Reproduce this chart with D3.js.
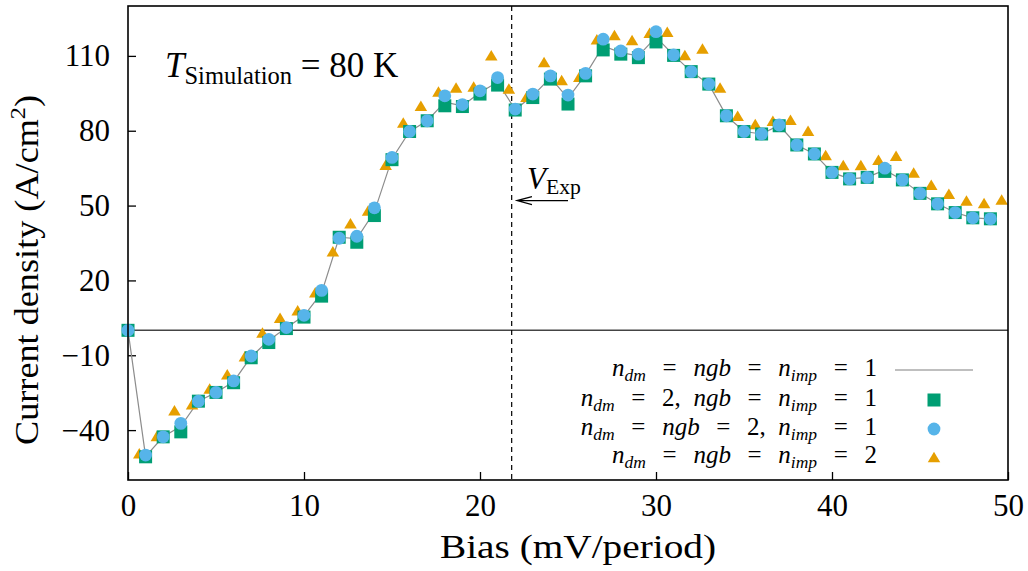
<!DOCTYPE html>
<html><head><meta charset="utf-8">
<script src="https://cdn.jsdelivr.net/npm/d3@7"></script>
<style>body{margin:0;background:#fff} svg{display:block} text{white-space:pre; font-family:'Liberation Serif','DejaVu Serif',serif}</style>
</head><body><svg id="c" width="1028" height="571"></svg>
<script>
// ---------- data ----------
const bias = [0,1,2,3,4,5,6,7,8,9,10,11,12,13,14,15,16,17,18,19,20,21,22,23,24,25,26,27,28,29,30,31,32,33,34,35,36,37,38,39,40,41,42,43,44,45,46,47,48,49];
// n_dm = ngb = n_imp = 1 (line)
const jLine = [0,-50.5,-42.7,-38.5,-28.4,-24.9,-20.6,-10.6,-4,1,5.8,15,37.3,36.8,47.5,68.8,79.7,84,91.5,90,95.3,99.5,88.5,94,101.3,93,102.5,114,111.3,110,117.5,110.3,103.7,98.7,86,79.7,78.7,82.2,74.3,70.7,63.3,60.7,61.3,64.3,60.3,54.9,50.7,47.2,45.1,44.7];
// n_dm = 2, ngb = n_imp = 1 (squares)
const jSquare = [0,-50.7,-42.7,-40.7,-28.4,-24.9,-21,-11,-4.9,0.7,5.3,13.7,37.3,35.3,46,68.4,79.7,84,90,89.7,94.7,98.3,88.3,93.3,100.7,90.7,102,112.4,110.7,109.3,115.6,110.2,103.7,98.7,86,79.7,78.7,82,74.3,70.7,63.3,60.7,61.3,63.7,60.3,54.9,50.7,47.2,45.1,44.7];
// n_dm = ngb = 2, n_imp = 1 (circles)
const jCircle = [0,-50,-42.7,-37.3,-28.4,-24.9,-20.3,-10.3,-3.6,1.1,6,16,36.9,37.7,49.1,69.3,79.7,84,94,90.5,96,101.3,88.7,94.7,102,94.3,103,116.7,112,110.7,119.7,110.4,103.7,98.7,86,79.7,78.7,82.3,74.3,70.7,63.3,60.7,61.3,65,60.3,54.9,50.7,47.2,45.1,44.7];
// n_dm = ngb = n_imp = 2 (triangles)
const triBias = [0.64,1.64,2.64,3.64,4.64,5.64,6.64,7.64,8.64,9.64,10.64,11.64,12.64,13.64,14.64,15.64,16.64,17.64,18.64,19.64,20.64,21.64,22.64,23.64,24.64,25.64,26.64,27.64,28.64,29.64,30.64,31.64,32.64,33.64,34.64,35.64,36.64,37.64,38.64,39.64,40.64,41.64,42.64,43.64,44.64,45.64,46.64,47.64,48.64,49.64];
const jTriangle = [-49.3,-42.4,-32,-29.6,-23.3,-17.6,-10.4,-0.9,5,8,15.3,31.7,42.9,48,66.4,83.3,90,95.7,97.3,97.7,110.3,96.9,93.6,107.6,100.3,101.6,116.7,118.4,116.4,119.3,119.7,110.4,113,97.3,86,82.7,84,84.4,80,70.3,66.3,66.3,68.4,70,63.3,58.3,54.7,52,51,52.4];
const xTicks = [0,10,20,30,40,50];
const yTicks = [-40,-10,20,50,80,110];
const xDomain = [0,50];
const yDomain = [-60,130];
const vExp = 21.8;
const arrowFrom = [25.0, 52];
const arrowTo = [22.1, 52];

// ---------- styles ----------
const C_SQ = '#009E73', C_CI = '#56B4E9', C_TR = '#E69F00', C_LINE = '#8c8c8c';
const SP = '\u2002\u2006'; // wide math space around "="

const svg = d3.select('#c');
const L = 128, R = 1008, T = 6, B = 480;
const x = d3.scaleLinear().domain(xDomain).range([L, R]);
const y = d3.scaleLinear().domain(yDomain).range([B, T]);

const fmt = d => (d < 0 ? '\u2212' + Math.abs(d) : '' + d);

// zero axis
svg.append('line').attr('x1', L).attr('x2', R).attr('y1', y(0)).attr('y2', y(0))
  .attr('stroke', '#444').attr('stroke-width', 1.4);
// dashed V_exp
svg.append('line').attr('x1', x(vExp)).attr('x2', x(vExp)).attr('y1', T).attr('y2', B)
  .attr('stroke', '#000').attr('stroke-width', 1.2).attr('stroke-dasharray', '5,4');

// axes
const gx = svg.append('g').attr('transform', `translate(0,${B})`)
  .call(d3.axisBottom(x).tickValues(xTicks).tickSize(-8).tickPadding(14).tickFormat(fmt));
const gy = svg.append('g').attr('transform', `translate(${L},0)`)
  .call(d3.axisLeft(y).tickValues(yTicks).tickSize(-8).tickPadding(18).tickFormat(fmt));
[gx, gy].forEach(g => {
  g.attr('font-family', null).attr('font-size', null);
  g.select('.domain').remove();
  g.selectAll('.tick line').attr('stroke', '#000').attr('stroke-width', 1.3);
  g.selectAll('.tick text').attr('font-size', 31).attr('fill', '#000');
});

// series 1 line
const lineGen = d3.line().x((d, i) => x(bias[i])).y(d => y(d));
svg.append('path').datum(jLine).attr('d', lineGen).attr('fill', 'none')
  .attr('stroke', C_LINE).attr('stroke-width', 1.2);

// markers
const triPath = (cx, cy, w, h) => `M${cx - w / 2},${cy + h / 2}L${cx + w / 2},${cy + h / 2}L${cx},${cy - h / 2}Z`;
svg.append('g').selectAll('path').data(jTriangle).join('path')
  .attr('d', (d, i) => triPath(x(triBias[i]), y(d), 12.5, 10.5)).attr('fill', C_TR);
svg.append('g').selectAll('rect').data(jSquare).join('rect')
  .attr('x', (d, i) => x(bias[i]) - 6.5).attr('y', d => y(d) - 6.5)
  .attr('width', 13).attr('height', 13).attr('fill', C_SQ);
svg.append('g').selectAll('circle').data(jCircle).join('circle')
  .attr('cx', (d, i) => x(bias[i])).attr('cy', d => y(d)).attr('r', 6.4).attr('fill', C_CI);

// frame
svg.append('rect').attr('x', L).attr('y', T).attr('width', R - L).attr('height', B - T)
  .attr('fill', 'none').attr('stroke', '#000').attr('stroke-width', 1.6);

// rich text helper
function rich(sel, segs, fs, shiftFrac) {
  let shifted = 0;
  segs.forEach(([t, st]) => {
    const ts = sel.append('tspan').text(t);
    const sub = st === 's' || st === 'sr';
    const want = sub ? fs * shiftFrac : 0;
    if (want !== shifted) { ts.attr('dy', want - shifted); shifted = want; }
    if (sub) ts.attr('font-size', fs * 0.7);
    if (st === 'i' || st === 's') ts.attr('font-style', 'italic');
  });
}

// title
const title = svg.append('text').attr('x', 165).attr('y', 77)
  .attr('font-size', 35).attr('fill', '#000');
rich(title, [['T', 'i'], ['Simulation', 'sr'], [' = 80 K', 'n']], 35, 0.2);

// V_Exp annotation
const vt = svg.append('text').attr('x', x(22.67)).attr('y', 189)
  .attr('font-size', 31).attr('fill', '#000');
rich(vt, [['V', 'i'], ['Exp', 'sr']], 31, 0.15);
const ax1 = x(arrowTo[0]), ay = y(arrowTo[1]), ax2 = x(arrowFrom[0]);
svg.append('path').attr('d', `M${ax2},${ay}L${ax1},${ay}M${ax1 + 15},${ay - 4}L${ax1},${ay}L${ax1 + 15},${ay + 4}`)
  .attr('fill', 'none').attr('stroke', '#000').attr('stroke-width', 1.2);

// axis titles
svg.append('text').attr('x', 578).attr('y', 558).attr('text-anchor', 'middle')
  .attr('font-size', 33).attr('textLength', 276).attr('lengthAdjust', 'spacingAndGlyphs')
  .text('Bias (mV/period)');
const yt = svg.append('text').attr('transform', 'translate(38,270) rotate(-90)')
  .attr('text-anchor', 'middle').attr('font-size', 33)
  .attr('textLength', 350).attr('lengthAdjust', 'spacingAndGlyphs');
yt.append('tspan').text('Current density (A/cm');
yt.append('tspan').attr('dy', -13).attr('font-size', 22).text('2');
yt.append('tspan').attr('dy', 13).text(')');

// legend
const eq = (v) => `${SP}=${SP}${v}`;
const legend = [
  { segs: [['n', 'i'], ['dm', 's'], [eq(''), 'n'], ['ngb', 'i'], [eq(''), 'n'], ['n', 'i'], ['imp', 's'], [eq('1'), 'n']], type: 'line' },
  { segs: [['n', 'i'], ['dm', 's'], [eq('2,\u2002'), 'n'], ['ngb', 'i'], [eq(''), 'n'], ['n', 'i'], ['imp', 's'], [eq('1'), 'n']], type: 'square' },
  { segs: [['n', 'i'], ['dm', 's'], [eq(''), 'n'], ['ngb', 'i'], [eq('2,\u2002'), 'n'], ['n', 'i'], ['imp', 's'], [eq('1'), 'n']], type: 'circle' },
  { segs: [['n', 'i'], ['dm', 's'], [eq(''), 'n'], ['ngb', 'i'], [eq(''), 'n'], ['n', 'i'], ['imp', 's'], [eq('2'), 'n']], type: 'triangle' }
];
const legY = [370, 400, 429, 457];
legend.forEach((e, k) => {
  const cy = legY[k];
  const t = svg.append('text').attr('x', 877).attr('y', cy + 6).attr('text-anchor', 'end')
    .attr('font-size', 25).attr('fill', '#000');
  rich(t, e.segs, 25, 0.2);
  if (e.type === 'line') svg.append('line').attr('x1', 895).attr('x2', 973).attr('y1', cy).attr('y2', cy)
    .attr('stroke', '#aaa').attr('stroke-width', 1.4);
  if (e.type === 'square') svg.append('rect').attr('x', 934 - 6.5).attr('y', cy - 6.5).attr('width', 13).attr('height', 13).attr('fill', C_SQ);
  if (e.type === 'circle') svg.append('circle').attr('cx', 934).attr('cy', cy).attr('r', 6.4).attr('fill', C_CI);
  if (e.type === 'triangle') svg.append('path').attr('d', triPath(934, cy, 12.5, 10.5)).attr('fill', C_TR);
});
</script></body></html>
